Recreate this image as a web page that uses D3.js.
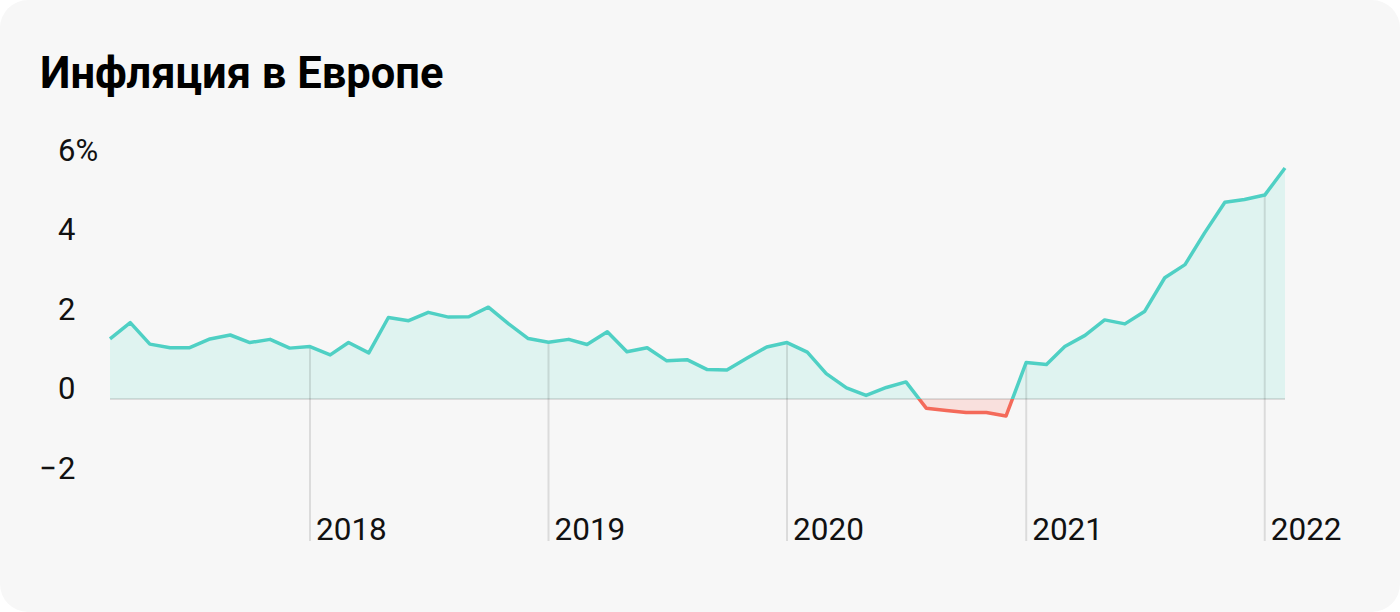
<!DOCTYPE html>
<html>
<head>
<meta charset="utf-8">
<script src="https://cdn.jsdelivr.net/npm/d3@7"></script>
<style>
  html, body { margin: 0; padding: 0; background: #fff; }
  svg { display: block; }
</style>
</head>
<body>
<div id="chart"></div>
<script>
// monthly euro area inflation, % y/y
var months = [
  "2017-03","2017-04","2017-05","2017-06","2017-07","2017-08","2017-09","2017-10","2017-11","2017-12",
  "2018-01","2018-02","2018-03","2018-04","2018-05","2018-06","2018-07","2018-08","2018-09","2018-10","2018-11","2018-12",
  "2019-01","2019-02","2019-03","2019-04","2019-05","2019-06","2019-07","2019-08","2019-09","2019-10","2019-11","2019-12",
  "2020-01","2020-02","2020-03","2020-04","2020-05","2020-06","2020-07","2020-08","2020-09","2020-10","2020-11","2020-12",
  "2021-01","2021-02","2021-03","2021-04","2021-05","2021-06","2021-07","2021-08","2021-09","2021-10","2021-11","2021-12",
  "2022-01","2022-02"
]
var inflation = [
  1.51, 1.92, 1.38, 1.29, 1.29, 1.51, 1.61, 1.42, 1.50, 1.28,
  1.32, 1.11, 1.42, 1.16, 2.05, 1.97, 2.18, 2.06, 2.07, 2.31, 1.89, 1.52,
  1.43, 1.50, 1.37, 1.69, 1.19, 1.29, 0.96, 0.99, 0.74, 0.73, 1.03, 1.31,
  1.42, 1.18, 0.64, 0.28, 0.09, 0.29, 0.43, -0.23, -0.29, -0.34, -0.34, -0.43,
  0.92, 0.87, 1.32, 1.60, 1.99, 1.89, 2.20, 3.05, 3.38, 4.18, 4.95, 5.02,
  5.13, 5.81
]
var yTicks = [6, 4, 2, 0, -2]
var yearTicks = ["2018", "2019", "2020", "2021", "2022"]

var width = 1400, height = 612
var teal = "#4fd0c4", tealFill = "#dff3f0"
var red = "#f46a5a", redFill = "#f9e0dd"
var gridColor = "rgba(0,0,0,0.11)"

var parseMonth = d3.timeParse("%Y-%m")
var data = months.map(function (m, i) { return { date: parseMonth(m), value: inflation[i] } })

var svg = d3.select("#chart").append("svg")
  .attr("width", width).attr("height", height)

svg.append("rect")
  .attr("width", width).attr("height", height)
  .attr("rx", 28).attr("ry", 28)
  .attr("fill", "#f7f7f7")

svg.append("text")
  .attr("x", 40).attr("y", 88)
  .attr("font-family", "Roboto, sans-serif")
  .attr("font-weight", 700)
  .attr("font-size", 43.5)
  .attr("fill", "#000")
  .text("Инфляция в Европе")

var x = d3.scaleTime()
  .domain(d3.extent(data, function (d) { return d.date }))
  .range([110, 1285])
var y = d3.scaleLinear().domain([-2, 6]).range([478.5, 160.5])

// y labels: digits left-aligned, minus hangs to the left
var yLab = svg.append("g")
  .attr("font-family", "Roboto, sans-serif")
  .attr("font-size", 31)
  .attr("fill", "#111")
yTicks.forEach(function (t, i) {
  var label = Math.abs(t) + (i === 0 ? "%" : "")
  yLab.append("text").attr("x", 58).attr("y", y(t)).text(label)
  if (t < 0) {
    yLab.append("text").attr("x", 57).attr("y", y(t)).attr("text-anchor", "end").text("−")
  }
})

var clip = svg.append("defs")
clip.append("clipPath").attr("id", "above")
  .append("rect").attr("x", 0).attr("y", 0).attr("width", width).attr("height", y(0))
clip.append("clipPath").attr("id", "below")
  .append("rect").attr("x", 0).attr("y", y(0)).attr("width", width).attr("height", height - y(0))

var area = d3.area()
  .x(function (d) { return x(d.date) })
  .y0(y(0))
  .y1(function (d) { return y(d.value) })
var line = d3.line()
  .x(function (d) { return x(d.date) })
  .y(function (d) { return y(d.value) })

svg.append("path").datum(data).attr("d", area).attr("fill", tealFill).attr("clip-path", "url(#above)")
svg.append("path").datum(data).attr("d", area).attr("fill", redFill).attr("clip-path", "url(#below)")

// year grid lines, from the curve down
var byDate = d3.bisector(function (d) { return d.date }).left
var grid = svg.append("g")
yearTicks.forEach(function (yr) {
  var dt = parseMonth(yr + "-01")
  var d = data[byDate(data, dt)]
  var xx = x(dt)
  grid.append("line")
    .attr("x1", xx).attr("x2", xx)
    .attr("y1", y(d.value)).attr("y2", 541)
    .attr("stroke", gridColor).attr("stroke-width", 2)
  grid.append("text")
    .attr("x", xx + 6).attr("y", 540)
    .attr("font-family", "Roboto, sans-serif")
    .attr("font-size", 31.5)
    .attr("fill", "#111")
    .text(yr)
})

svg.append("line")
  .attr("x1", x(data[0].date)).attr("x2", x(data[data.length - 1].date))
  .attr("y1", y(0)).attr("y2", y(0))
  .attr("stroke", gridColor).attr("stroke-width", 2)

svg.append("path").datum(data).attr("d", line)
  .attr("fill", "none").attr("stroke", teal).attr("stroke-width", 3.5)
  .attr("stroke-linejoin", "round").attr("clip-path", "url(#above)")
svg.append("path").datum(data).attr("d", line)
  .attr("fill", "none").attr("stroke", red).attr("stroke-width", 3.5)
  .attr("stroke-linejoin", "round").attr("clip-path", "url(#below)")
</script>
</body>
</html>
